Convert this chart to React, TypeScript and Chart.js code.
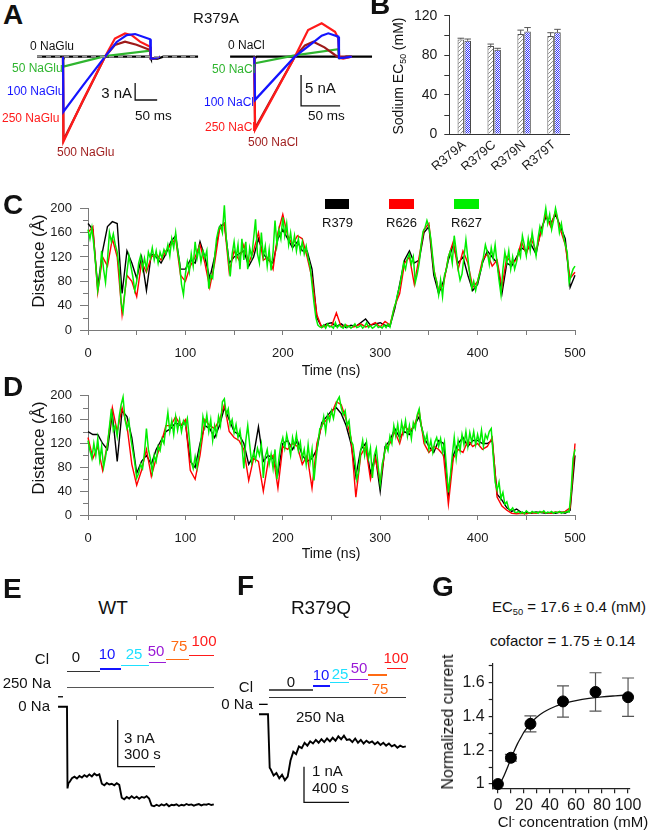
import React, { useEffect, useRef } from 'react';
import { Chart, registerables } from 'chart.js';

Chart.register(...registerables);

const FONT = "'Liberation Sans', Arial, Helvetica, sans-serif";
Chart.defaults.font.family = FONT;
Chart.defaults.color = '#1a1a1a';

// ---------------- Panel A : current traces (ms, nA) ----------------
const gluBlackT = [-59, 0, 0.5, 3, 198, 200, 215, 228, 307];
const gluBlackI = [0, 0, -0.5, 0, 0, -0.35, -0.35, 0, 0];
const glu50T = [0, 1, 95.5, 198, 199.5, 206, 220];
const glu50I = [0, -1.76, 0.1, 1.06, -0.3, -0.35, 0];
const glu100T = [0, 1, 46, 95.5, 122, 145, 164, 198, 199.5, 206, 220];
const glu100I = [0, -9.7, -5.0, 0, 2.6, 3.8, 4.0, 3.07, -0.3, -0.35, 0];
const glu250T = [0, 1, 46, 95.5, 118, 141, 156, 175, 198, 199.5, 206, 220];
const glu250I = [0, -15.0, -7.6, 0, 3.2, 4.1, 3.8, 2.65, 1.77, -0.3, -0.35, 0];
const glu500T = [0, 1, 95.5, 118, 141, 167, 198, 199.5, 206, 220];
const glu500I = [0, -14.7, 0, 2.06, 2.65, 2.1, 1.18, -0.3, -0.35, 0];
const gluDashT = [-59, 307];
const gluDashI = [0, 0];
const gluScaleT = [164, 164, 214];
const gluScaleI = [-4.64, -7.64, -7.64];

const clBlackT = [-31, 0, 0.5, 3, 107.7, 109, 118, 151];
const clBlackI = [0, 0, -0.3, 0, 0, -0.25, 0, 0];
const cl50T = [0, 1, 52, 107.7, 108.6, 114, 125];
const cl50I = [0, -1.06, 0.2, 1.19, -0.2, -0.2, 0];
const cl100T = [0, 1, 52, 75.7, 86.4, 94.9, 107.7, 108.6, 114, 125];
const cl100I = [0, -6.98, 0, 2.3, 3.4, 3.77, 3.23, -0.2, -0.2, 0];
const cl250T = [0, 1, 52, 69, 86.4, 103.5, 107.7, 109, 114, 125];
const cl250I = [0, -11.8, 0, 4.3, 5.39, 4.03, 2.97, -0.2, -0.3, 0];
const cl500T = [0, 1, 52, 65, 75.7, 90, 103.5, 107, 125];
const cl500I = [0, -11.55, 0, 1.8, 2.42, 1.5, 0.27, 0, 0];
const clScaleT = [60, 60, 110];
const clScaleI = [-2.95, -7.95, -7.95];

// ---------------- Panel B : sodium EC50 ----------------
const bCategories = ['R379A', 'R379C', 'R379N', 'R379T'];
const bHatched = [96, 89.3, 101.4, 99.4];
const bHatchedErr = [1.2, 2, 4, 3.4];
const bBlue = [94.7, 85.6, 104, 103.2];
const bBlueErr = [1.7, 1.4, 4, 3];
const bYTicks = [0, 40, 80, 120];
const bYMinor = [20, 60, 100];

// ---------------- Panels C / D : distance vs time ----------------
const MD_GREEN_STEP = 2; // ns between green samples
const MD_STEP = 5; // ns between red / black samples
const mdXTicks = [0, 50, 100, 150, 200, 250, 300, 350, 400, 450, 500];
const mdXLabels = [0, 100, 200, 300, 400, 500];
const mdYMajor = [0, 40, 80, 120, 160, 200];
const mdYMinor = [20, 60, 100, 140, 180];

const cGreen = [
  165, 150, 168, 140, 105, 65, 85, 130, 100, 78,
  115, 160, 145, 158, 140, 128, 100, 45, 30, 65,
  95, 122, 105, 88, 65, 80, 110, 122, 100, 118,
  100, 128, 118, 135, 115, 130, 110, 128, 118, 132,
  125, 140, 122, 150, 135, 160, 130, 110, 75, 58,
  92, 112, 95, 125, 105, 145, 118, 135, 112, 130,
  118, 130, 68, 90, 85, 120, 150, 165, 172, 160,
  205, 150, 120, 88, 125, 145, 118, 140, 100, 150,
  115, 145, 100, 135, 120, 150, 182, 125, 110, 160,
  120, 138, 105, 132, 98, 128, 180, 140, 165, 150,
  185, 155, 175, 140, 160, 135, 155, 130, 150, 128,
  145, 125, 138, 118, 105, 75, 45, 20, 8, 5,
  4, 8, 3, 10, 5, 6, 3, 12, 4, 8,
  5, 3, 9, 4, 7, 3, 6, 10, 4, 5,
  8, 3, 6, 12, 4, 7, 3, 5, 9, 4,
  6, 3, 8, 4, 10, 5, 20, 35, 45, 60,
  72, 90, 110, 100, 118, 125, 108, 120, 78, 92,
  110, 140, 162, 168, 180, 170, 150, 118, 90, 80,
  58, 82, 55, 90, 100, 120, 130, 110, 155, 130,
  100, 82, 92, 120, 148, 118, 90, 68, 80, 65,
  80, 92, 102, 120, 140, 128, 108, 135, 118, 140,
  110, 82, 58, 100, 128, 110, 130, 100, 120, 100,
  112, 130, 120, 155, 140, 122, 150, 130, 160, 140,
  122, 150, 170, 158, 180, 200, 175, 190, 165, 180,
  200, 185, 160, 175, 155, 140, 128, 78, 90, 100,
  105,
];
const cRed = [
  160, 170, 62, 120, 105, 150, 120, 25, 90, 80,
  55, 112, 95, 120, 125, 115, 130, 140, 150, 90,
  80, 105, 120, 140, 110, 70, 110, 165, 175, 95,
  130, 115, 140, 110, 130, 160, 115, 120, 100, 160,
  190, 155, 140, 155, 150, 120, 85, 25, 4, 8,
  6, 28, 5, 8, 4, 6, 10, 5, 8, 12,
  5, 14, 8, 40, 60, 110, 120, 75, 120, 165,
  175, 100, 65, 75, 120, 145, 100, 130, 110, 70,
  80, 115, 125, 105, 115, 70, 120, 110, 115, 145,
  125, 150, 130, 160, 190, 170, 195, 165, 140, 85,
  95,
];
const cBlack = [
  175, 165, 70, 130, 170, 178, 175, 60, 130, 110,
  85, 120, 65, 125, 120, 110, 125, 145, 155, 100,
  100, 115, 110, 145, 120, 85, 120, 170, 175, 110,
  120, 125, 130, 105, 120, 150, 125, 115, 110, 150,
  165, 150, 135, 145, 130, 130, 100, 20, 5, 10,
  12, 6, 10, 4, 8, 6, 12, 18, 8, 10,
  12, 8, 6, 35, 75, 115, 130, 110, 115, 160,
  170, 90, 60, 80, 115, 140, 110, 120, 90, 65,
  75, 110, 130, 120, 110, 60, 110, 105, 120, 135,
  130, 140, 125, 165, 185, 175, 190, 170, 150, 70,
  90,
];

const dGreen = [
  125, 108, 95, 120, 100, 128, 92, 115, 80, 98,
  118, 148, 178, 142, 150, 132, 165, 185, 198, 160,
  145, 158, 128, 108, 88, 62, 70, 85, 78, 105,
  145, 110, 95, 72, 100, 90, 115, 108, 128, 120,
  148, 172, 140, 158, 135, 165, 142, 160, 140, 158,
  150, 162, 128, 90, 78, 98, 80, 102, 125, 165,
  148, 168, 140, 160, 125, 150, 135, 165, 150, 190,
  195, 168, 178, 150, 160, 138, 152, 130, 142, 118,
  78, 125, 150, 118, 88, 105, 92, 112, 100, 118,
  62, 98, 110, 85, 102, 78, 110, 60, 95, 118,
  130, 112, 135, 118, 100, 130, 115, 135, 108, 122,
  95, 110, 85, 118, 88, 110, 58, 92, 120, 145,
  148, 165, 140, 168, 158, 175, 162, 180, 192, 198,
  180, 168, 175, 150, 158, 125, 118, 92, 60, 75,
  108, 125, 100, 122, 95, 112, 62, 100, 112, 80,
  52, 85, 100, 118, 108, 132, 120, 150, 132, 152,
  128, 155, 138, 158, 132, 150, 128, 155, 145, 168,
  178, 150, 138, 122, 135, 110, 125, 105, 122, 130,
  115, 128, 105, 122, 80, 38, 65, 100, 130, 95,
  125, 108, 135, 118, 140, 115, 138, 122, 140, 118,
  135, 120, 142, 115, 135, 128, 140, 145, 100, 55,
  42, 55, 28, 38, 18, 22, 10, 8, 12, 5,
  4, 6, 3, 5, 2, 7, 4, 3, 6, 4,
  5, 3, 6, 4, 7, 3, 5, 4, 6, 3,
  5, 4, 6, 3, 5, 4, 6, 5, 40, 95,
  110,
];
const dRed = [
  130, 95, 115, 75, 120, 180, 140, 180, 150, 85,
  50, 75, 110, 65, 95, 120, 150, 150, 165, 150,
  160, 75, 60, 100, 160, 150, 145, 160, 185, 140,
  130, 125, 110, 58, 95, 90, 40, 90, 100, 45,
  115, 110, 120, 115, 85, 100, 45, 120, 150, 160,
  170, 190, 185, 160, 130, 30, 100, 115, 60, 95,
  55, 110, 120, 140, 120, 150, 140, 150, 175, 120,
  105, 115, 110, 100, 18, 95, 110, 105, 125, 115,
  120, 110, 115, 130, 30, 15, 8, 3, 2, 3,
  2, 4, 3, 5, 4, 3, 5, 4, 6, 12,
  120,
];
const dBlack = [
  140, 135, 135, 120, 110, 170, 90, 175, 165, 130,
  70, 90, 100, 85, 110, 125, 140, 145, 155, 150,
  155, 90, 80, 120, 150, 145, 130, 150, 180, 160,
  140, 135, 120, 85, 100, 148, 90, 100, 95, 70,
  120, 125, 110, 125, 100, 90, 95, 110, 155, 165,
  175, 180, 170, 150, 120, 65, 110, 120, 70, 100,
  40, 115, 125, 145, 130, 140, 135, 150, 165, 130,
  115, 105, 125, 120, 35, 100, 120, 130, 115, 125,
  125, 120, 120, 125, 35, 25, 12, 6, 10, 4,
  4, 3, 5, 4, 3, 4, 3, 5, 3, 8,
  100,
];

// ---------------- Panel E : WT current (s, nA) ----------------
const ePrefixT = [-72, 0, 4, 12];
const ePrefixI = [0, 0, -5.25, -4.9];
const E_START = 20;
const E_STEP = 20;
const eCurrent = [
  -4.85, -4.6, -4.5, -4.62, -4.45, -4.55, -4.4, -4.5, -4.35, -4.48, -4.3, -4.42, -4.35,
  -4.95, -5.05, -4.9, -5.0, -4.95, -5.05, -4.92, -5.02,
  -5.85, -5.95, -5.8, -5.9, -5.75, -5.88, -5.78, -5.92, -5.8, -5.85, -5.75, -5.9,
  -6.35, -6.4, -6.3, -6.38, -6.28, -6.35, -6.25, -6.4, -6.3, -6.33,
  -6.27, -6.38, -6.3, -6.35, -6.25, -6.32, -6.28, -6.36, -6.3, -6.26,
  -6.34, -6.28, -6.3, -6.25, -6.32, -6.28,
];
const eTickT = [-72, -32];
const eTickI = [0.64, 0.64];
const eScaleT = [407.6, 407.6, 707.6];
const eScaleI = [-0.855, -3.855, -3.855];

// ---------------- Panel F : R379Q current (s, nA) ----------------
const fPrefixT = [-80, 0, 15];
const fPrefixI = [0, 0, -1.5];
const F_START = 25;
const F_STEP = 25;
const fCurrent = [
  -1.55, -1.72, -1.65, -1.8, -1.7, -1.85,
  -1.75, -1.3, -1.05, -1.12, -0.9, -0.95,
  -0.8, -0.88, -0.76, -0.82, -0.72, -0.8, -0.7, -0.78,
  -0.68, -0.76, -0.66, -0.74, -0.62, -0.7, -0.6, -0.72,
  -0.7, -0.78, -0.68, -0.8, -0.72, -0.82, -0.74, -0.8,
  -0.76, -0.84, -0.78, -0.86, -0.8, -0.88, -0.82, -0.9,
  -0.86, -0.94, -0.88, -0.92, -0.9,
];
const fTickT = [-80, -3];
const fTickI = [0.28, 0.28];
const fScaleT = [320, 320, 720];
const fScaleI = [-1.472, -2.472, -2.472];

// ---------------- Panel G : Cl- dose response ----------------
const gConc = [0, 10, 25, 50, 75, 100];
const gCurrent = [1.0, 1.155, 1.355, 1.487, 1.543, 1.512];
const gErr = [0, 0.02, 0.047, 0.092, 0.113, 0.113];
const gFitX = [0, 2.5, 5, 7.5, 10, 12.5, 15, 17.5, 20, 25, 30, 35, 40, 50, 60, 70, 80, 90, 100];
const gFitY = [1.0, 1.017, 1.055, 1.101, 1.149, 1.195, 1.237, 1.272, 1.306, 1.357, 1.395, 1.423, 1.444, 1.474, 1.492, 1.505, 1.514, 1.52, 1.525];
const gXTicks = [0, 10, 20, 30, 40, 50, 60, 70, 80, 90, 100];
const gXLabels = [0, 20, 40, 60, 80, 100];
const gYTicks = [1, 1.2, 1.4, 1.6];
const gYLabels = ['1', '1.2', '1.4', '1.6'];
const gYMinor = [1.1, 1.3, 1.5, 1.7];

// ---------------- colours ----------------
const GREEN = '#00ee00';
const RED = '#ff0000';
const A_GREEN = '#2fb52f';
const A_BLUE = '#1414ff';
const A_RED = '#ff1a1a';
const A_DARK = '#9e1a1a';
const CYAN = '#1ee0ff';
const PURPLE = '#9a1ad6';
const ORANGE = '#ff6a13';
const AX = '#7a7a7a';

// ---------------- helpers ----------------
const pts = (xs: number[], ys: number[]) => xs.map((x, i) => ({ x, y: ys[i] }));
const stepPts = (start: number, step: number, ys: number[]) => ys.map((y, i) => ({ x: start + i * step, y }));

const BASE: any = {
  animation: false,
  responsive: false,
  maintainAspectRatio: false,
  events: [],
  plugins: { legend: { display: false }, tooltip: { enabled: false }, title: { display: false } },
};

function axis(o: any) {
  const labelText = o.labelText || o.labels.map((v: number) => String(v));
  return {
    type: 'linear',
    min: o.min,
    max: o.max,
    afterBuildTicks: (s: any) => {
      s.ticks = o.ticks.map((v: number) => ({ value: v }));
    },
    afterFit: (s: any) => {
      if (o.horizontal) s.height = o.fit;
      else s.width = o.fit;
    },
    ticks: {
      autoSkip: false,
      maxRotation: 0,
      minRotation: 0,
      padding: o.pad,
      font: { size: o.size },
      color: '#1a1a1a',
      callback: (v: number) => {
        const i = o.labels.findIndex((l: number) => Math.abs(l - v) < 1e-9);
        return i >= 0 ? labelText[i] : '';
      },
    },
    grid: { display: true, drawOnChartArea: false, drawTicks: true, tickLength: o.tickLen, color: o.color, lineWidth: o.lw || 1 },
    border: { display: true, color: o.color, width: o.lw || 1 },
  };
}

function minorTicks(items: any[]) {
  return {
    id: 'minorTicks',
    afterDraw(chart: any) {
      const ctx = chart.ctx;
      items.forEach((it) => {
        const sc = chart.scales[it.axis];
        ctx.save();
        ctx.strokeStyle = it.color;
        ctx.lineWidth = it.lw || 1;
        it.values.forEach((v: number) => {
          const p = Math.round(sc.getPixelForValue(v)) + 0.5;
          ctx.beginPath();
          if (sc.isHorizontal()) {
            ctx.moveTo(p, sc.top);
            ctx.lineTo(p, sc.top + it.len);
          } else {
            ctx.moveTo(sc.right, p);
            ctx.lineTo(sc.right - it.len, p);
          }
          ctx.stroke();
        });
        ctx.restore();
      });
    },
  };
}

function traceConfig(sets: any[], xr: number[], yr: number[]) {
  return {
    type: 'line',
    data: {
      datasets: sets.map((d) => ({ fill: false, pointRadius: 0, tension: 0, clip: 40, borderWidth: 2.2, ...d })),
    },
    options: {
      ...BASE,
      layout: { padding: 0 },
      scales: {
        x: { type: 'linear', display: false, min: xr[0], max: xr[1] },
        y: { type: 'linear', display: false, min: yr[0], max: yr[1] },
      },
    },
  };
}

function mdConfig(green: number[], red: number[], black: number[], padTop: number) {
  return {
    type: 'line',
    data: {
      datasets: [
        { data: stepPts(0, MD_GREEN_STEP, green), borderColor: GREEN, order: 0, borderWidth: 1.5 },
        { data: stepPts(0, MD_STEP, red), borderColor: RED, order: 1 },
        { data: stepPts(0, MD_STEP, black), borderColor: '#000000', order: 2 },
      ].map((d) => ({ fill: false, pointRadius: 0, tension: 0, borderWidth: 1.4, clip: 10, ...d })),
    },
    options: {
      ...BASE,
      layout: { padding: { top: padTop, right: 81, bottom: 0, left: 0 } },
      scales: {
        x: axis({ min: 0, max: 500, ticks: mdXTicks, labels: mdXLabels, size: 13, pad: 10.5, tickLen: 5, color: AX, fit: 50, horizontal: true }),
        y: axis({ min: 0, max: 200, ticks: mdYMajor, labels: mdYMajor, size: 13, pad: 8, tickLen: 8, color: AX, fit: 88 }),
      },
    },
    plugins: [minorTicks([{ axis: 'y', values: mdYMinor, len: 5, color: AX }])],
  };
}

function makePattern(kind: string) {
  const c = document.createElement('canvas');
  c.width = 4;
  c.height = 4;
  const x = c.getContext('2d') as CanvasRenderingContext2D;
  x.fillStyle = '#ffffff';
  x.fillRect(0, 0, 4, 4);
  if (kind === 'hatch') {
    x.strokeStyle = '#8c8c8c';
    x.lineWidth = 1;
    x.beginPath();
    x.moveTo(0, 4);
    x.lineTo(4, 0);
    x.moveTo(-1, 1);
    x.lineTo(1, -1);
    x.moveTo(3, 5);
    x.lineTo(5, 3);
    x.stroke();
  } else {
    x.fillStyle = '#3030ff';
    for (let i = 0; i < 4; i++) for (let j = 0; j < 4; j++) if ((i + j) % 2 === 0) x.fillRect(i, j, 1, 1);
  }
  return x.createPattern(c, 'repeat');
}

function bConfig() {
  const errPlugin = {
    id: 'barErr',
    afterDatasetsDraw(chart: any) {
      const ctx = chart.ctx;
      const ys = chart.scales.y;
      const sets = [
        [bHatched, bHatchedErr],
        [bBlue, bBlueErr],
      ];
      sets.forEach(([vals, errs], di) => {
        const meta = chart.getDatasetMeta(di);
        ctx.save();
        ctx.strokeStyle = '#555555';
        ctx.lineWidth = 1;
        meta.data.forEach((el: any, i: number) => {
          const top = ys.getPixelForValue(vals[i] + errs[i]);
          const base = ys.getPixelForValue(vals[i]);
          const hw = el.width / 2;
          ctx.beginPath();
          ctx.moveTo(el.x, base);
          ctx.lineTo(el.x, top);
          ctx.moveTo(el.x - hw, top);
          ctx.lineTo(el.x + hw, top);
          ctx.stroke();
        });
        ctx.restore();
      });
    },
  };
  return {
    type: 'bar',
    data: {
      labels: bCategories,
      datasets: [
        { data: bHatched, backgroundColor: makePattern('hatch'), borderColor: '#555555', borderWidth: 1 },
        { data: bBlue, backgroundColor: makePattern('check'), borderColor: '#444444', borderWidth: 1 },
      ].map((d) => ({ categoryPercentage: 0.46, barPercentage: 0.95, ...d })),
    },
    options: {
      ...BASE,
      layout: { padding: { top: 15.7, right: 31, left: 0, bottom: 0 } },
      scales: {
        x: {
          type: 'category',
          grid: { display: false, drawTicks: false },
          border: { display: true, color: '#333333', width: 1 },
          ticks: { autoSkip: false, minRotation: 40, maxRotation: 40, padding: 3, font: { size: 13 }, color: '#1a1a1a' },
          afterFit: (s: any) => {
            s.height = 35.7;
          },
        },
        y: axis({ min: 0, max: 120, ticks: bYTicks, labels: bYTicks, size: 14, pad: 7, tickLen: 5, color: '#333333', fit: 79.3 }),
      },
    },
    plugins: [minorTicks([{ axis: 'y', values: bYMinor, len: 5, color: '#333333' }]), errPlugin],
  };
}

function gConfig() {
  const errPlugin = {
    id: 'gErr',
    beforeDatasetsDraw(chart: any) {
      const ctx = chart.ctx;
      const xs = chart.scales.x;
      const ys = chart.scales.y;
      ctx.save();
      ctx.strokeStyle = '#555555';
      ctx.lineWidth = 1.2;
      gConc.forEach((c, i) => {
        if (!gErr[i]) return;
        const x = xs.getPixelForValue(c);
        const t = ys.getPixelForValue(gCurrent[i] + gErr[i]);
        const b = ys.getPixelForValue(gCurrent[i] - gErr[i]);
        ctx.beginPath();
        ctx.moveTo(x, t);
        ctx.lineTo(x, b);
        ctx.moveTo(x - 6, t);
        ctx.lineTo(x + 6, t);
        ctx.moveTo(x - 6, b);
        ctx.lineTo(x + 6, b);
        ctx.stroke();
      });
      ctx.restore();
    },
  };
  return {
    type: 'line',
    data: {
      datasets: [
        {
          data: pts(gConc, gCurrent),
          showLine: false,
          pointRadius: 5.5,
          pointBackgroundColor: '#000000',
          pointBorderColor: '#000000',
          clip: 20,
          order: 0,
        },
        {
          data: pts(gFitX, gFitY),
          borderColor: '#111111',
          borderWidth: 1.3,
          pointRadius: 0,
          cubicInterpolationMode: 'monotone',
          fill: false,
          order: 1,
        },
      ],
    },
    options: {
      ...BASE,
      layout: { padding: { top: 5, right: 26, left: 0, bottom: 0 } },
      scales: {
        x: axis({ min: -4, max: 101.5, ticks: gXTicks, labels: gXLabels, size: 16, pad: 2.5, tickLen: 5, color: '#222222', fit: 45.7, horizontal: true, lw: 1.2 }),
        y: axis({ min: 0.975, max: 1.71, ticks: gYTicks, labels: gYTicks, labelText: gYLabels, size: 16, pad: 4, tickLen: 4, color: '#222222', fit: 62.7, lw: 1.2 }),
      },
    },
    plugins: [minorTicks([{ axis: 'y', values: gYMinor, len: 4, color: '#222222', lw: 1.2 }]), errPlugin],
  };
}

// ---------------- components ----------------
function ChartBox({ x, y, w, h, make }: any) {
  const ref = useRef<HTMLCanvasElement | null>(null);
  useEffect(() => {
    if (!ref.current) return;
    const chart = new Chart(ref.current, make());
    return () => chart.destroy();
  }, []);
  return <canvas ref={ref} width={w} height={h} style={{ position: 'absolute', left: x, top: y, width: w, height: h }} />;
}

function T({ x, y, s, c = '#111', a = 'start', b = false, r = false, children }: any) {
  const tx = a === 'middle' ? '-50%' : a === 'end' ? '-100%' : '0';
  return (
    <div
      style={{
        position: 'absolute',
        left: x,
        top: y,
        fontFamily: FONT,
        fontSize: s,
        lineHeight: `${s}px`,
        color: c,
        fontWeight: b ? 700 : 400,
        whiteSpace: 'nowrap',
        transform: r ? 'translate(-50%,-50%) rotate(-90deg)' : `translate(${tx},-50%)`,
      }}
    >
      {children}
    </div>
  );
}

function HL({ x1, x2, y, c, w = 1.5 }: any) {
  return <div style={{ position: 'absolute', left: x1, top: y - w / 2, width: x2 - x1, height: w, background: c }} />;
}

function Box({ x1, x2, y1, y2, c }: any) {
  return <div style={{ position: 'absolute', left: x1, top: y1, width: x2 - x1, height: y2 - y1, background: c }} />;
}

const Sub = ({ children }: any) => (
  <span style={{ fontSize: '0.62em', position: 'relative', top: '0.35em' }}>{children}</span>
);
const Sup = ({ children }: any) => (
  <span style={{ fontSize: '0.62em', position: 'relative', top: '-0.55em' }}>{children}</span>
);

export default function App() {
  return (
    <div style={{ position: 'absolute', left: 0, top: 0, width: 656, height: 834, overflow: 'hidden', background: '#fff' }}>
      {/* Panel A */}
      <ChartBox
        x={30}
        y={25}
        w={170}
        h={125}
        make={() =>
          traceConfig(
            [
              { data: pts(gluDashT, gluDashI), borderColor: '#9a9a9a', borderWidth: 1.5, borderDash: [5, 4], order: -1 },
              { data: pts(gluScaleT, gluScaleI), borderColor: '#111', borderWidth: 1.3, order: 0 },
              { data: pts(glu100T, glu100I), borderColor: A_BLUE, order: 1 },
              { data: pts(glu250T, glu250I), borderColor: A_RED, order: 2 },
              { data: pts(glu500T, glu500I), borderColor: A_DARK, order: 3 },
              { data: pts(glu50T, glu50I), borderColor: A_GREEN, order: 4 },
              { data: pts(gluBlackT, gluBlackI), borderColor: '#000', order: 5 },
            ],
            [-75, 311.4],
            [-16.46, 5.59]
          )
        }
      />
      <ChartBox
        x={200}
        y={20}
        w={180}
        h={125}
        make={() =>
          traceConfig(
            [
              { data: pts(clScaleT, clScaleI), borderColor: '#111', borderWidth: 1.3, order: 0 },
              { data: pts(cl100T, cl100I), borderColor: A_BLUE, order: 1 },
              { data: pts(cl250T, cl250I), borderColor: A_RED, order: 2 },
              { data: pts(cl500T, cl500I), borderColor: A_DARK, order: 3 },
              { data: pts(cl50T, cl50I), borderColor: A_GREEN, order: 4 },
              { data: pts(clBlackT, clBlackI), borderColor: '#000', order: 5 },
            ],
            [-69.6, 161.2],
            [-14.27, 5.92]
          )
        }
      />
      <T x={3} y={15} s={28} b>A</T>
      <T x={216} y={17} s={15} a="middle">R379A</T>
      <T x={30} y={46} s={12}>0 NaGlu</T>
      <T x={12} y={68} s={12} c={A_GREEN}>50 NaGlu</T>
      <T x={7} y={91} s={12} c={A_BLUE}>100 NaGlu</T>
      <T x={2} y={118} s={12} c={A_RED}>250 NaGlu</T>
      <T x={57} y={152} s={12} c={A_DARK}>500 NaGlu</T>
      <T x={132} y={92} s={15} a="end">3 nA</T>
      <T x={135} y={116} s={13.5}>50 ms</T>
      <T x={228} y={45} s={12}>0 NaCl</T>
      <T x={212} y={69} s={12} c={A_GREEN}>50 NaCl</T>
      <T x={204} y={102} s={12} c={A_BLUE}>100 NaCl</T>
      <T x={205} y={127} s={12} c={A_RED}>250 NaCl</T>
      <T x={248} y={142} s={12} c={A_DARK}>500 NaCl</T>
      <T x={305} y={87} s={15}>5 nA</T>
      <T x={308} y={116} s={13.5}>50 ms</T>

      {/* Panel B */}
      <ChartBox x={370} y={0} w={230} h={170} make={bConfig} />
      <T x={370} y={5} s={28} b>B</T>
      <T x={399} y={76} s={14} r>
        Sodium EC<Sub>50</Sub> (mM)
      </T>

      {/* Panel C */}
      <ChartBox x={0} y={190} w={656} h={190} make={() => mdConfig(cGreen, cRed, cBlack, 18.3)} />
      <T x={3} y={205} s={28} b>C</T>
      <T x={38} y={261} s={17} r>Distance (Å)</T>
      <T x={331} y={370} s={14} a="middle">Time (ns)</T>
      <Box x1={325} x2={349} y1={199} y2={209} c="#000" />
      <Box x1={389} x2={414} y1={199} y2={209} c={RED} />
      <Box x1={454} x2={479} y1={199} y2={209} c={GREEN} />
      <T x={322} y={222} s={13}>R379</T>
      <T x={386} y={222} s={13}>R626</T>
      <T x={451} y={222} s={13}>R627</T>

      {/* Panel D */}
      <ChartBox x={0} y={380} w={656} h={185} make={() => mdConfig(dGreen, dRed, dBlack, 13.3)} />
      <T x={3} y={387} s={28} b>D</T>
      <T x={38} y={448} s={17} r>Distance (Å)</T>
      <T x={331} y={553} s={14} a="middle">Time (ns)</T>

      {/* Panel E */}
      <ChartBox
        x={40}
        y={640}
        w={180}
        h={175}
        make={() =>
          traceConfig(
            [
              { data: pts(ePrefixT, ePrefixI).concat(stepPts(E_START, E_STEP, eCurrent)), borderColor: '#000', borderWidth: 1.9 },
              { data: pts(eTickT, eTickI), borderColor: '#000', borderWidth: 1.3 },
              { data: pts(eScaleT, eScaleI), borderColor: '#111', borderWidth: 1.3 },
            ],
            [-217, 1229.9],
            [-6.96, 4.29]
          )
        }
      />
      <T x={3} y={589} s={28} b>E</T>
      <T x={113} y={607} s={19} a="middle">WT</T>
      <T x={49} y={658} s={15} a="end">Cl</T>
      <T x={76} y={656} s={15} a="middle">0</T>
      <T x={107} y={653} s={15} a="middle" c={A_BLUE}>10</T>
      <T x={134} y={653} s={15} a="middle" c={CYAN}>25</T>
      <T x={156} y={650} s={15} a="middle" c={PURPLE}>50</T>
      <T x={179} y={645} s={15} a="middle" c={ORANGE}>75</T>
      <T x={204} y={640} s={15} a="middle" c={A_RED}>100</T>
      <T x={51} y={682} s={15} a="end">250 Na</T>
      <T x={50} y={705} s={15} a="end">0 Na</T>
      <T x={124} y={737} s={15}>3 nA</T>
      <T x={124} y={753} s={15}>300 s</T>
      <HL x1={67} x2={100} y={671.7} c="#333" />
      <HL x1={100} x2={121} y={669} c={A_BLUE} />
      <HL x1={121} x2={149} y={665.7} c={CYAN} />
      <HL x1={149} x2={166} y={662.7} c={PURPLE} />
      <HL x1={166} x2={189} y={659.3} c={ORANGE} />
      <HL x1={189} x2={214} y={655.7} c={A_RED} />
      <HL x1={67} x2={214} y={687.7} c="#555" />

      {/* Panel F */}
      <ChartBox
        x={240}
        y={690}
        w={180}
        h={125}
        make={() =>
          traceConfig(
            [
              { data: pts(fPrefixT, fPrefixI).concat(stepPts(F_START, F_STEP, fCurrent)), borderColor: '#000', borderWidth: 1.9 },
              { data: pts(fTickT, fTickI), borderColor: '#000', borderWidth: 1.3 },
              { data: pts(fScaleT, fScaleI), borderColor: '#111', borderWidth: 1.3 },
            ],
            [-248.9, 1351.1],
            [-2.829, 0.683]
          )
        }
      />
      <T x={237} y={586} s={28} b>F</T>
      <T x={321} y={607} s={19} a="middle">R379Q</T>
      <T x={253} y={686} s={15} a="end">Cl</T>
      <T x={291} y={681} s={15} a="middle">0</T>
      <T x={321} y={674} s={15} a="middle" c={A_BLUE}>10</T>
      <T x={340} y={673} s={15} a="middle" c={CYAN}>25</T>
      <T x={359} y={667} s={15} a="middle" c={PURPLE}>50</T>
      <T x={380} y={688} s={15} a="middle" c={ORANGE}>75</T>
      <T x={396} y={657} s={15} a="middle" c={A_RED}>100</T>
      <T x={253} y={703} s={15} a="end">0 Na</T>
      <T x={296} y={716} s={15}>250 Na</T>
      <T x={312} y={770} s={15}>1 nA</T>
      <T x={312} y={787} s={15}>400 s</T>
      <HL x1={269} x2={313.3} y={690} c="#555" />
      <HL x1={313.3} x2={330} y={686} c={A_BLUE} />
      <HL x1={330} x2={349} y={682.7} c={CYAN} />
      <HL x1={349} x2={367.7} y={679.3} c={PURPLE} />
      <HL x1={367.7} x2={387} y={675} c={ORANGE} />
      <HL x1={386.7} x2={406} y={668.3} c={A_RED} />
      <HL x1={269} x2={406} y={697.3} c="#333" />

      {/* Panel G */}
      <ChartBox x={430} y={650} w={226} h={184} make={gConfig} />
      <T x={432} y={587} s={28} b>G</T>
      <T x={492} y={608} s={15}>
        EC<Sub>50</Sub> = 17.6 ± 0.4 (mM)
      </T>
      <T x={490} y={640} s={15}>cofactor = 1.75 ± 0.14</T>
      <T x={448} y={722} s={16} r>Normalized current</T>
      <T x={573} y={823} s={15} a="middle">
        Cl<Sup>-</Sup> concentration (mM)
      </T>
    </div>
  );
}
